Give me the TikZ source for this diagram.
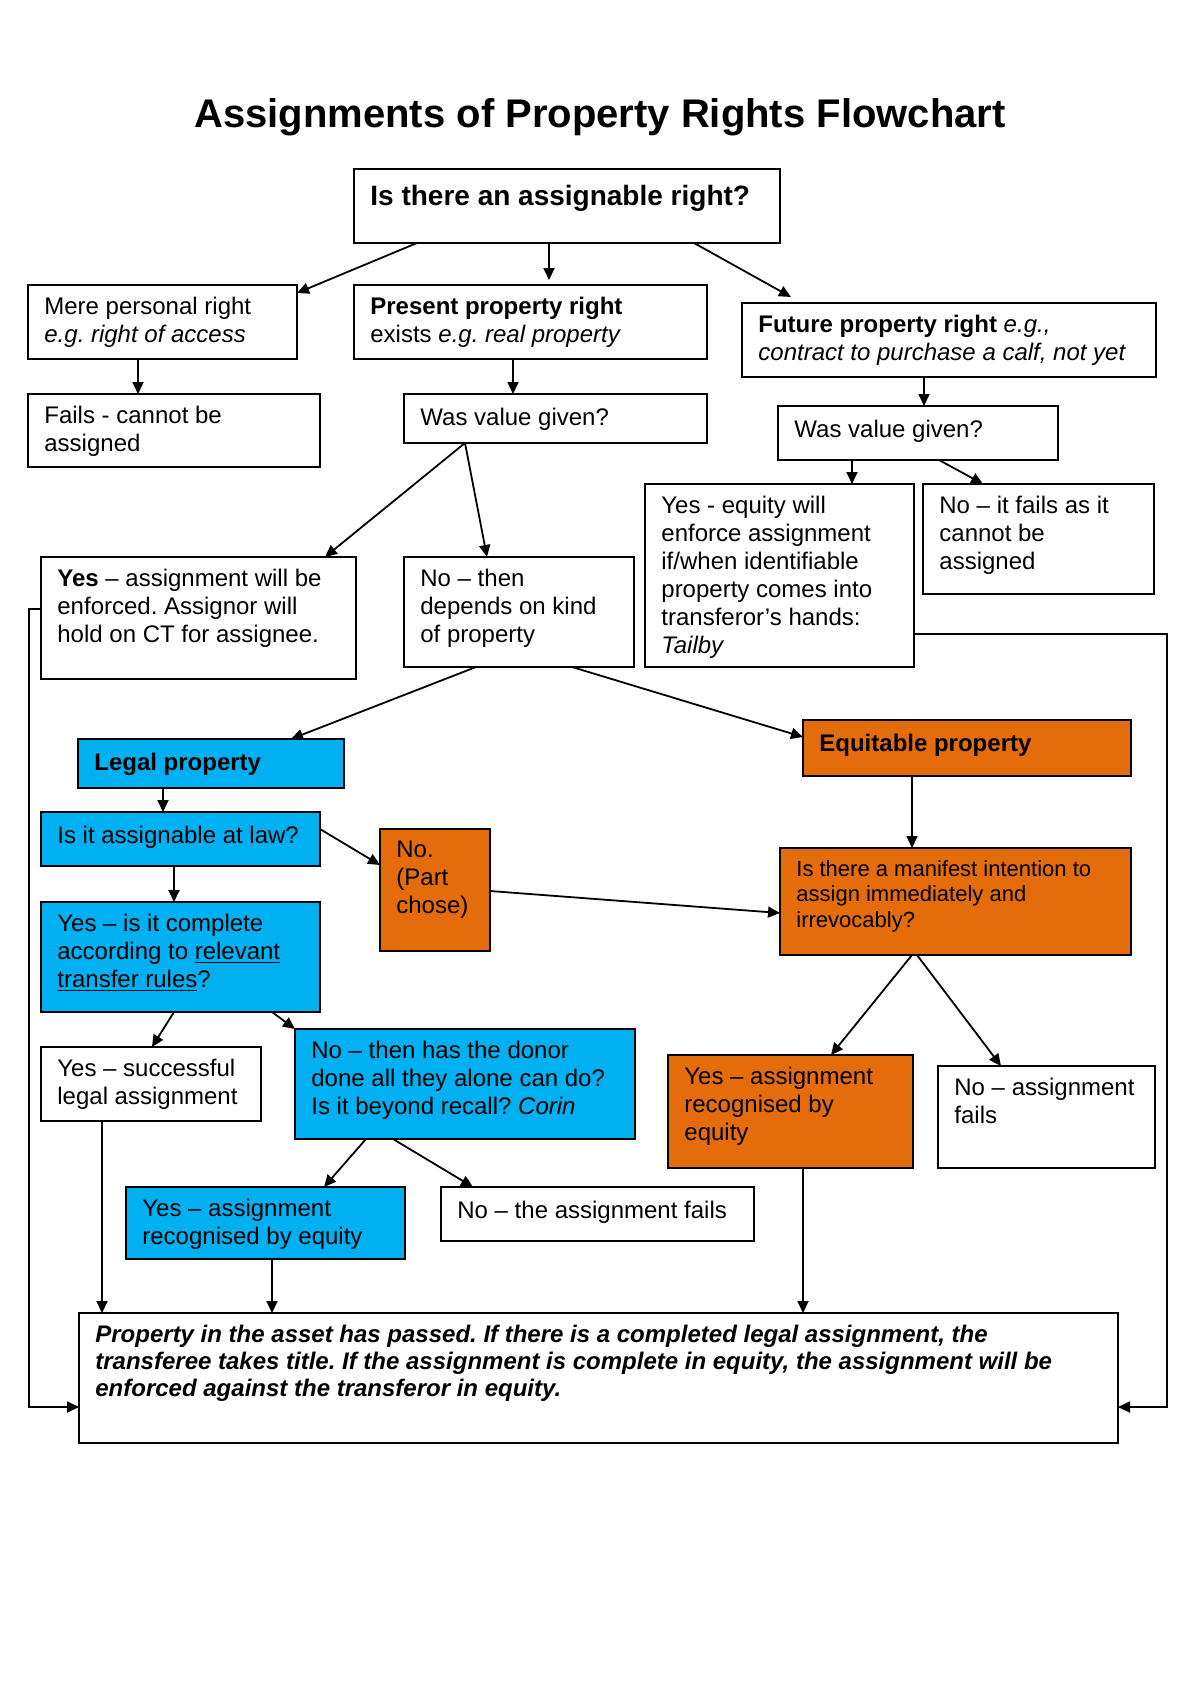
\documentclass[tikz,border=0pt]{standalone}
\usepackage{fontspec}
\setmainfont{Liberation Sans}
\usetikzlibrary{arrows.meta,calc}
\definecolor{cblue}{RGB}{0,176,240}
\definecolor{corange}{RGB}{228,108,10}
\frenchspacing
\tikzset{
  box/.style={draw, line width=1.1pt, outer sep=0pt, inner sep=0pt, fill=white},
  bluebox/.style={box, fill=cblue},
  orangebox/.style={box, fill=corange},
  txt/.style={anchor=north west, inner sep=0pt, align=left, font=\fontsize{12}{14}\selectfont\frenchspacing, execute at begin node=\strut},
  arr/.style={-{Triangle[length=6pt,width=5.5pt]}, line width=0.9pt},
}
\newcommand{\mkbox}[8]{%
  \node[#2, anchor=north west, minimum width={(#5-#3)*0.5pt}, minimum height={(#6-#4)*0.5pt}] (#1) at (#3,#4) {};
  \node[txt, #7] (#1t) at ($(#1.north west)+(16,11.4)$) {#8};}
\begin{document}
\begin{tikzpicture}[x=0.5pt, y=-0.5pt]
\useasboundingbox (0,0) rectangle (1200,1696);
\node[font=\fontsize{20}{24}\selectfont\bfseries, anchor=base] (title) at (600,128) {Assignments of Property Rights Flowchart};

\mkbox{top}{box}{354}{169}{780}{243}{font=\fontsize{14}{16}\selectfont\bfseries, yshift=-1.1pt}{Is there an assignable right?}
\mkbox{mere}{box}{28}{285}{297}{359}{}{Mere personal right\\\textit{e.g.\ right of access}}
\mkbox{present}{box}{354}{285}{707}{359}{}{\textbf{Present property right}\\exists \textit{e.g.\ real property}}
\mkbox{future}{box}{742}{303}{1156}{377}{}{\textbf{Future property right} \textit{e.g.,}\\\textit{contract to purchase a calf, not yet}}
\mkbox{fails}{box}{28}{394}{320}{467}{}{Fails - cannot be\\assigned}
\mkbox{wasL}{box}{404}{394}{707}{443}{}{Was value given?}
\mkbox{wasR}{box}{778}{406}{1058}{460}{}{Was value given?}
\mkbox{yeseq}{box}{645}{484}{914}{667}{}{Yes - equity will\\enforce assignment\\if/when identifiable\\property comes into\\transferor’s hands:\\\textit{Tailby}}
\mkbox{nofails}{box}{923}{484}{1154}{594}{}{No – it fails as it\\cannot be\\assigned}
\mkbox{yesenf}{box}{41}{557}{356}{679}{}{\textbf{Yes} – assignment will be\\enforced. Assignor will\\hold on CT for assignee.}
\mkbox{nothen}{box}{404}{557}{634}{667}{}{No – then\\depends on kind\\of property}
\mkbox{legal}{bluebox}{78}{739}{344}{788}{}{\textbf{Legal property}}
\mkbox{equit}{orangebox}{803}{720}{1131}{776}{}{\textbf{Equitable property}}
\mkbox{assign}{bluebox}{41}{812}{320}{866}{}{Is it assignable at law?}
\mkbox{part}{orangebox}{380}{829}{490}{951}{}{No.\\(Part\\chose)}
\mkbox{manif}{orangebox}{780}{848}{1131}{955}{font=\fontsize{11}{12.7}\selectfont, yshift=-0.3pt}{Is there a manifest intention to\\assign immediately and\\irrevocably?}
\mkbox{complete}{bluebox}{41}{902}{320}{1012}{}{Yes – is it complete\\according to \underline{relevant}\\\underline{transfer rules}?}
\mkbox{success}{box}{41}{1047}{261}{1121}{}{Yes – successful\\legal assignment}
\mkbox{donor}{bluebox}{295}{1029}{635}{1139}{}{No – then has the donor\\done all they alone can do?\\Is it beyond recall? \textit{Corin}}
\mkbox{oyes}{orangebox}{668}{1055}{913}{1168}{}{Yes – assignment\\recognised by\\equity}
\mkbox{noass}{box}{938}{1066}{1155}{1168}{}{No – assignment\\fails}
\mkbox{byes}{bluebox}{126}{1187}{405}{1259}{}{Yes – assignment\\recognised by equity}
\mkbox{nothe}{box}{441}{1187}{754}{1241}{}{No – the assignment fails}
\mkbox{bot}{box}{79}{1313}{1118}{1443}{font=\fontsize{12}{13.6}\selectfont\bfseries\itshape}{Property in the asset has passed. If there is a completed legal assignment, the\\transferee takes title. If the assignment is complete in equity, the assignment will be\\enforced against the transferor in equity.}

% connectors
\draw[arr] ($(top.north west)+(63,74)$) -- ($(mere.north west)+(269,8)$);
\draw[arr] ($(top.north west)+(195,74)$) -- ($(present.north west)+(195,-5)$);
\draw[arr] ($(top.north west)+(340,74)$) -- ($(future.north west)+(49,-6)$);
\draw[arr] ($(mere.north west)+(110,74)$) -- ($(fails.north west)+(110,0)$);
\draw[arr] ($(present.north west)+(159,74)$) -- ($(wasL.north west)+(109,0)$);
\draw[arr] ($(future.north west)+(182,74)$) -- ($(wasR.north west)+(146,0)$);
\draw[arr] ($(wasL.north west)+(61,49)$) -- ($(yesenf.north west)+(284,0)$);
\draw[arr] ($(wasL.north west)+(61,49)$) -- ($(nothen.north west)+(83,0)$);
\draw[arr] ($(wasR.north west)+(74,54)$) -- ($(yeseq.north west)+(207,0)$);
\draw[arr] ($(wasR.north west)+(161,54)$) -- ($(nofails.north west)+(60,0)$);
\draw[arr] ($(nothen.north west)+(72,110)$) -- ($(legal.north west)+(213,0)$);
\draw[arr] ($(nothen.north west)+(168,110)$) -- ($(equit.north west)+(0,17)$);
\draw[arr] ($(legal.north west)+(85,49)$) -- ($(assign.north west)+(122,0)$);
\draw[arr] ($(assign.north west)+(279,17)$) -- ($(part.north west)+(0,36)$);
\draw[arr] ($(assign.north west)+(133,54)$) -- ($(complete.north west)+(133,0)$);
\draw[arr] ($(part.north west)+(110,62)$) -- ($(manif.north west)+(0,65)$);
\draw[arr] ($(equit.north west)+(109,56)$) -- ($(manif.north west)+(132,0)$);
\draw[arr] ($(complete.north west)+(133,110)$) -- ($(success.north west)+(111,0)$);
\draw[arr] ($(complete.north west)+(231,110)$) -- (donor.north west);
\draw[arr] ($(donor.north west)+(71,110)$) -- ($(byes.north west)+(198,0)$);
\draw[arr] ($(donor.north west)+(98,110)$) -- ($(nothe.north west)+(32,0)$);
\draw[arr] ($(manif.north west)+(132,107)$) -- ($(oyes.north west)+(163,0)$);
\draw[arr] ($(manif.north west)+(137,107)$) -- ($(noass.north west)+(63,0)$);
\draw[arr] ($(success.north west)+(61,74)$) -- ($(bot.north west)+(23,0)$);
\draw[arr] ($(byes.north west)+(146,72)$) -- ($(bot.north west)+(193,0)$);
\draw[arr] ($(oyes.north west)+(135,113)$) -- ($(bot.north west)+(724,0)$);
\draw[arr] ($(yesenf.north west)+(0,52)$) -- ++(-12,0) |- ($(bot.north west)+(0,94)$);
\draw[arr] ($(yeseq.north west)+(269,150)$) -- ++(253,0) |- ($(bot.north west)+(1039,94)$);
\end{tikzpicture}
\end{document}
